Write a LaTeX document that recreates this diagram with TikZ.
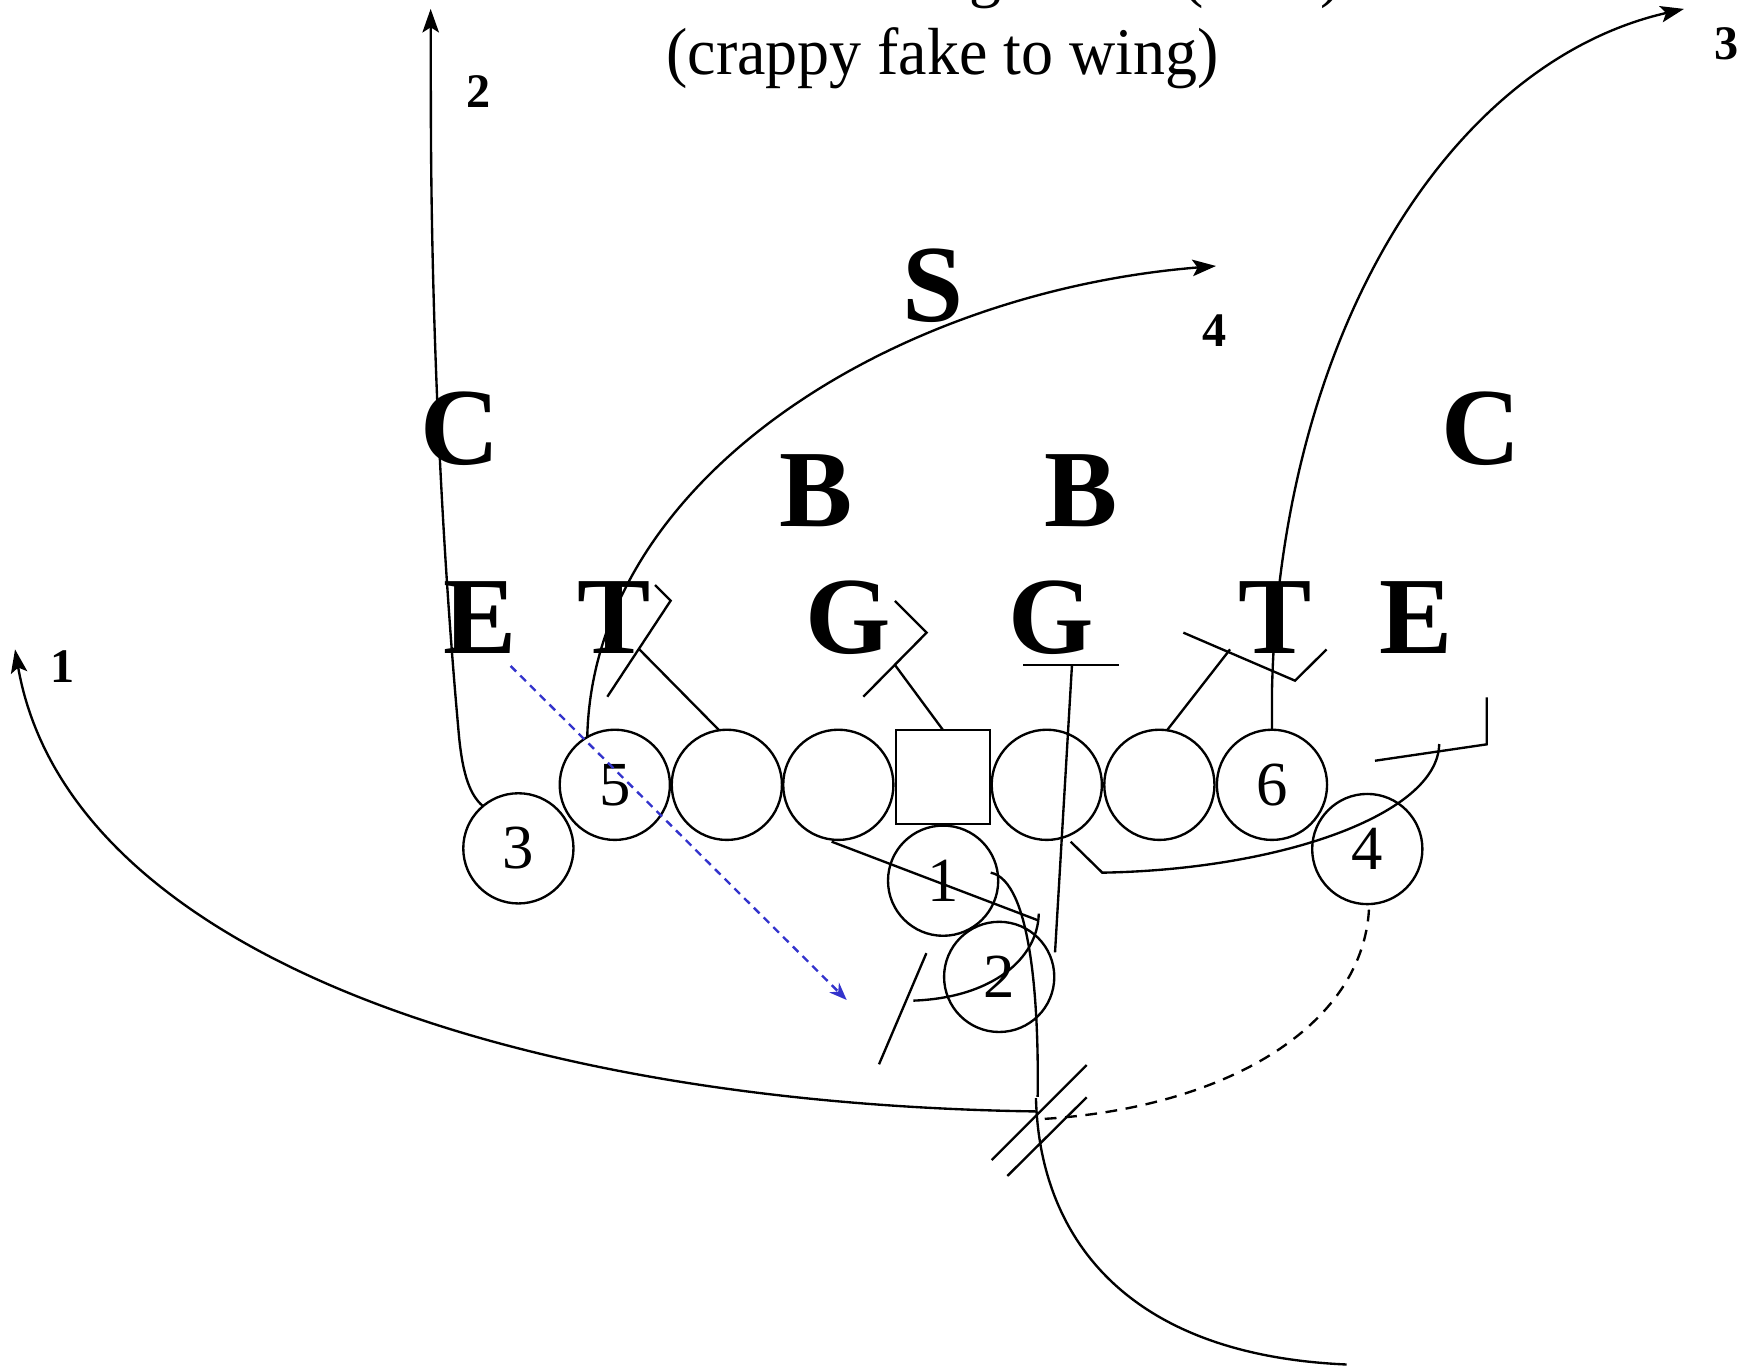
\documentclass[tikz,border=0pt]{standalone}
\usepackage{fontspec}
\setmainfont{Liberation Serif}
\newfontfamily\ttlfont[FakeStretch=0.96]{Liberation Serif}
\usetikzlibrary{arrows.meta}
\definecolor{passblue}{RGB}{51,51,204}
\begin{document}
\begin{tikzpicture}[x=0.01cm,y=-0.01cm,
  line width=0.6pt,
  player/.style={draw,circle,minimum size=0.988cm,inner sep=0pt,outer sep=0pt,font=\fontsize{16}{18}\selectfont},
  snap/.style={draw,rectangle,minimum size=0.84cm,inner sep=0pt,outer sep=0pt},
  defl/.style={font=\fontsize{28}{30}\selectfont\bfseries,inner sep=0pt,anchor=base},
  rlabel/.style={font=\fontsize{12.3}{14}\selectfont\bfseries,inner sep=0pt,anchor=base},
  ttl/.style={font=\ttlfont\fontsize{17}{20}\selectfont,inner sep=0pt,anchor=base},
  route/.style={-{Stealth[length=6pt,width=4.2pt,inset=1.3pt]}},
  pass/.style={draw=passblue,dash pattern=on 2pt off 1.5pt,-{Stealth[length=4.5pt,width=3.5pt]}},
  motion/.style={dash pattern=on 3pt off 2.2pt}
]
\useasboundingbox (0,0) rectangle (1568,1230);

% title
\node[ttl] (t2) at (845.5,67) {(crappy fake to wing)};
\node[ttl] (t1g) at (884,-4.5) {g};
\node[ttl] (t1a) at (1070,-4.5) {(};
\node[ttl] (t1b) at (1194.5,-4.5) {)};

% offense
\node[player] (p3) at (465,761) {3};
\node[player] (p5) at (551.5,704) {5};
\node[player] (lt) at (652,704) {};
\node[player] (lg) at (752,704) {};
\node[snap] (c) at (846,697) {};
\node[player] (rg) at (939,704) {};
\node[player] (rt) at (1040,704) {};
\node[player] (p6) at (1141,704) {6};
\node[player] (p1) at (846,790) {1};
\node[player] (p2) at (896.3,876.3) {2};
\node[player] (p4) at (1226.5,761.6) {4};

% defense
\node[defl] (cL) at (413,416.5) {C};
\node[defl] (cR) at (1328.5,416.5) {C};
\node[defl] (S) at (837,288.5) {S};
\node[defl] (bL) at (732.5,472) {B};
\node[defl] (bR) at (969.5,472) {B};
\node[defl] (eL) at (430.6,586) {E};
\node[defl] (tL) at (551,586) {T};
\node[defl] (gL) at (761,586) {G};
\node[defl] (gR) at (943,586) {G};
\node[defl] (tR) at (1144,586) {T};
\node[defl] (eR) at (1270,586) {E};

% route labels
\node[rlabel] (l1) at (56.5,612) {1};
\node[rlabel] (l2) at (429.5,96) {2};
\node[rlabel] (l3) at (1548.5,53) {3};
\node[rlabel] (l4) at (1089.5,311) {4};

% coordinates
\coordinate (r1end) at (13.5,582.5);
\coordinate (r2a) at (411,652);
\coordinate (r2b) at (386.5,100);
\coordinate (r2end) at (386.3,8);
\coordinate (r3a) at (1141,620);
\coordinate (r3end) at (1510.6,8);
\coordinate (r4end) at (1090.8,238.6);
\coordinate (x1) at (930,997);
\coordinate (qbs) at (888.7,782.8);
\coordinate (x2) at (930.8,984);
\coordinate (x3) at (929.3,985);
\coordinate (fend) at (1208,1224);
\coordinate (p4s) at (1228,816);
\coordinate (x4) at (931,1004);
\coordinate (s1a) at (889.5,1040.6);
\coordinate (s1b) at (974.8,955.3);
\coordinate (s2a) at (903.6,1054.9);
\coordinate (s2b) at (974.8,984.3);
\coordinate (rgs) at (960.4,755);
\coordinate (rgk) at (988.8,782.8);
\coordinate (p4e) at (1291,667.4);
\coordinate (b4a) at (1233.4,682.4);
\coordinate (b4b) at (1333.6,667.7);
\coordinate (b4c) at (1333.6,625.5);
\coordinate (lgs) at (746,755);
\coordinate (lge) at (930.5,825.3);
\coordinate (p2a) at (931.8,819.5);
\coordinate (p2e) at (819.3,897.6);
\coordinate (sla) at (831,855);
\coordinate (slb) at (788.5,954.7);
\coordinate (gRu1) at (918,596.5);
\coordinate (gRu2) at (1003.8,596.5);
\coordinate (gRv) at (961.6,596.5);
\coordinate (gRb) at (946.4,854.3);
\coordinate (gLk) at (802.8,596.5);
\coordinate (gLa) at (774.4,625);
\coordinate (gLb) at (831.2,567.5);
\coordinate (gLc) at (802.8,539.1);
\coordinate (tLk) at (573.5,582.5);
\coordinate (tLa) at (544.8,625);
\coordinate (tLb) at (601.6,538.8);
\coordinate (tLc) at (587.6,524.8);
\coordinate (tRk) at (1103.4,582.5);
\coordinate (tRa) at (1061.5,567.5);
\coordinate (tRb) at (1161.7,610.6);
\coordinate (tRc) at (1190,582.5);
\coordinate (pss) at (458,597.4);
\coordinate (pse) at (759.5,897);

% routes
\draw[route] (p3.130) .. controls (420,712) and (414,690) .. (r2a)
  .. controls (400,530) and (387,330) .. (r2b) -- (r2end);
\draw[route] (x1) .. controls (450,990) and (60,850) .. (r1end);
\draw[route] (p6.north) -- (r3a) .. controls (1148,300) and (1300,56) .. (r3end);
\draw[route] (p5.120) .. controls (532,430) and (800,262) .. (r4end);

% backfield action
\draw (qbs) .. controls (925,790) and (932,900) .. (x2);
\draw (x3) .. controls (932,1100) and (1000,1215) .. (fend);
\draw[motion] (p4s) .. controls (1222,920) and (1100,995) .. (x4);
\draw (s1a) -- (s1b);
\draw (s2a) -- (s2b);
\draw (rgs) -- (rgk) .. controls (1150,780) and (1290,730) .. (p4e);
\draw (b4a) -- (b4b) -- (b4c);
\draw (lgs) -- (lge);
\draw (p2a) .. controls (931,860) and (890,895) .. (p2e);
\draw (sla) -- (slb);

% blocks
\draw (gRu1) -- (gRu2);
\draw (gRv) -- (gRb);
\draw (c.north) -- (gLk);
\draw (gLa) -- (gLb) -- (gLc);
\draw (lt.98) -- (tLk);
\draw (tLa) -- (tLb) -- (tLc);
\draw (rt.82) -- (tRk);
\draw (tRa) -- (tRb) -- (tRc);

% pass
\draw[pass] (pss) -- (pse);
\end{tikzpicture}
\end{document}
